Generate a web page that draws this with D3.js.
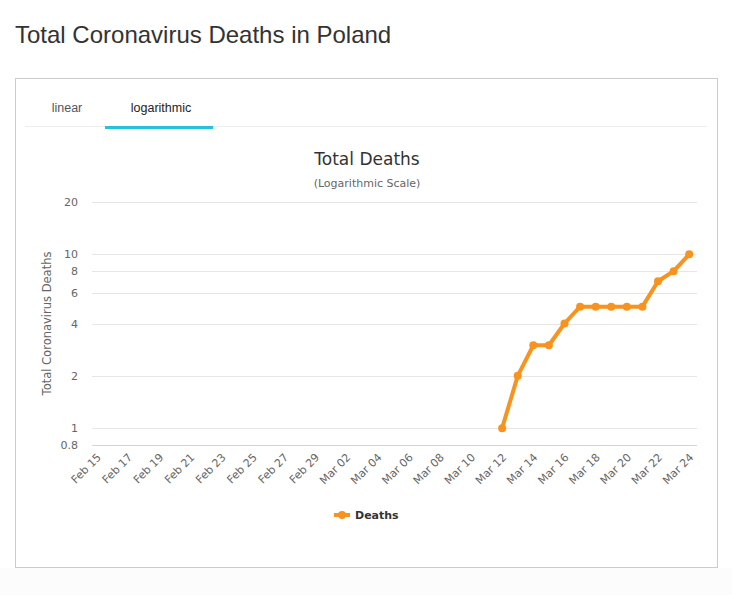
<!DOCTYPE html>
<html lang="en">
<head>
    <meta charset="UTF-8">
    <title>Total Coronavirus Deaths in Poland</title>
    <script src="https://d3js.org/d3.v7.min.js"></script>
    <style>
        html, body {
            margin: 0;
            background: #fff;
        }
        svg text { font-family: "DejaVu Sans", sans-serif; }
        .head { font-family: "Liberation Sans", Arial, sans-serif !important; }
    </style>
</head>
<body>
<div id="vis"></div>
<script>

    // dates Feb 15 .. Mar 24 (2020)
    var days = [];
    var start = new Date(2020, 1, 15);
    for (var i = 0; i < 39; i++) {
        days.push(d3.timeFormat('%b %d')(d3.timeDay.offset(start, i)));
    }

    // total deaths per day, 0 before the first death
    var deaths = [0,0,0,0,0,0,0,0,0,0,0,0,0,0,0,
                  0,0,0,0,0,0,0,0,0,0,0,
                  1,2,3,3,4,5,5,5,5,5,7,8,10];

    var yTicks = [0.8, 1, 2, 4, 6, 8, 10, 20];

    var width = 732, height = 595;
    var plot = {left: 89, right: 697, top: 202, bottom: 446};

    var svg = d3.select('#vis')
        .append('svg')
            .attr('width', width)
            .attr('height', height);

    svg.append('rect')
        .attr('x', 0).attr('y', 568)
        .attr('width', width).attr('height', height - 568)
        .attr('fill', '#fcfcfc');

    svg.append('text')
        .attr('class', 'head')
        .attr('x', 15).attr('y', 43)
        .attr('font-size', '24px')
        .attr('fill', '#333')
        .text('Total Coronavirus Deaths in Poland');

    // box
    svg.append('rect')
        .attr('x', 15.5).attr('y', 78.5)
        .attr('width', 702).attr('height', 489)
        .attr('fill', 'none')
        .attr('stroke', '#ccc');

    // tabs
    svg.append('line')
        .attr('x1', 25).attr('x2', 707)
        .attr('y1', 126.5).attr('y2', 126.5)
        .attr('stroke', '#eee');
    svg.append('rect')
        .attr('x', 105).attr('y', 126)
        .attr('width', 108).attr('height', 3)
        .attr('fill', '#29c0e0');
    svg.append('text')
        .attr('class', 'head')
        .attr('x', 67).attr('y', 112)
        .attr('text-anchor', 'middle')
        .attr('font-size', '12.5px')
        .attr('fill', '#555')
        .text('linear');
    svg.append('text')
        .attr('class', 'head')
        .attr('x', 161).attr('y', 112)
        .attr('text-anchor', 'middle')
        .attr('font-size', '12.5px')
        .attr('fill', '#222')
        .text('logarithmic');

    // chart titles
    svg.append('text')
        .attr('x', 367).attr('y', 165)
        .attr('text-anchor', 'middle')
        .attr('font-size', '17px')
        .attr('fill', '#333')
        .text('Total Deaths');
    svg.append('text')
        .attr('x', 367).attr('y', 187)
        .attr('text-anchor', 'middle')
        .attr('font-size', '11px')
        .attr('fill', '#666')
        .text('(Logarithmic Scale)');

    var x = d3.scaleBand()
        .domain(days)
        .range([plot.left, plot.right]);

    var y = d3.scaleLog()
        .domain([0.8, 20])
        .range([445, 202]);

    // grid
    svg.append('g')
        .selectAll('line')
        .data(yTicks)
        .enter()
        .append('line')
            .attr('x1', plot.left + 3).attr('x2', plot.right)
            .attr('y1', function(d){ return Math.round(y(d)) + 0.5; })
            .attr('y2', function(d){ return Math.round(y(d)) + 0.5; })
            .attr('stroke', '#e6e6e6');

    svg.append('line')
        .attr('x1', plot.left + 3).attr('x2', plot.right)
        .attr('y1', 445.5).attr('y2', 445.5)
        .attr('stroke', '#ccd6eb');

    // y labels
    svg.append('g')
        .selectAll('text')
        .data(yTicks)
        .enter()
        .append('text')
            .attr('x', 78)
            .attr('y', function(d){ return y(d) + 4; })
            .attr('text-anchor', 'end')
            .attr('font-size', '11px')
            .attr('fill', '#666')
            .text(function(d){ return d; });

    svg.append('text')
        .attr('transform', 'translate(51,' + ((202 + 445) / 2) + ')rotate(-90)')
        .attr('text-anchor', 'middle')
        .attr('font-size', '11.5px')
        .attr('fill', '#666')
        .text('Total Coronavirus Deaths');

    // x labels, every other day
    svg.append('g')
        .selectAll('text')
        .data(days.filter(function(d, i){ return i % 2 === 0; }))
        .enter()
        .append('text')
            .attr('transform', function(d){
                return 'translate(' + (x(d) + x.bandwidth() / 2 + 5) + ',458)rotate(-45)';
            })
            .attr('text-anchor', 'end')
            .attr('font-size', '11px')
            .attr('fill', '#666')
            .text(function(d){ return d; });

    // series
    var pts = days.map(function(d, i){ return {day: d, v: deaths[i]}; })
        .filter(function(p){ return p.v > 0; });

    var line = d3.line()
        .x(function(p){ return x(p.day) + x.bandwidth() / 2; })
        .y(function(p){ return y(p.v); });

    var orange = '#f7931e';

    svg.append('path')
        .datum(pts)
        .attr('d', line)
        .attr('fill', 'none')
        .attr('stroke', orange)
        .attr('stroke-width', 4)
        .attr('stroke-linejoin', 'round');

    svg.append('g')
        .selectAll('circle')
        .data(pts)
        .enter()
        .append('circle')
            .attr('cx', function(p){ return x(p.day) + x.bandwidth() / 2; })
            .attr('cy', function(p){ return y(p.v); })
            .attr('r', 4)
            .attr('fill', orange);

    // legend
    svg.append('line')
        .attr('x1', 334).attr('x2', 350)
        .attr('y1', 515).attr('y2', 515)
        .attr('stroke', orange)
        .attr('stroke-width', 4);
    svg.append('circle')
        .attr('cx', 342).attr('cy', 515)
        .attr('r', 4)
        .attr('fill', orange);
    svg.append('text')
        .attr('x', 355).attr('y', 519)
        .attr('font-size', '11px')
        .attr('font-weight', 'bold')
        .attr('fill', '#333')
        .text('Deaths');

</script>
</body>
</html>
